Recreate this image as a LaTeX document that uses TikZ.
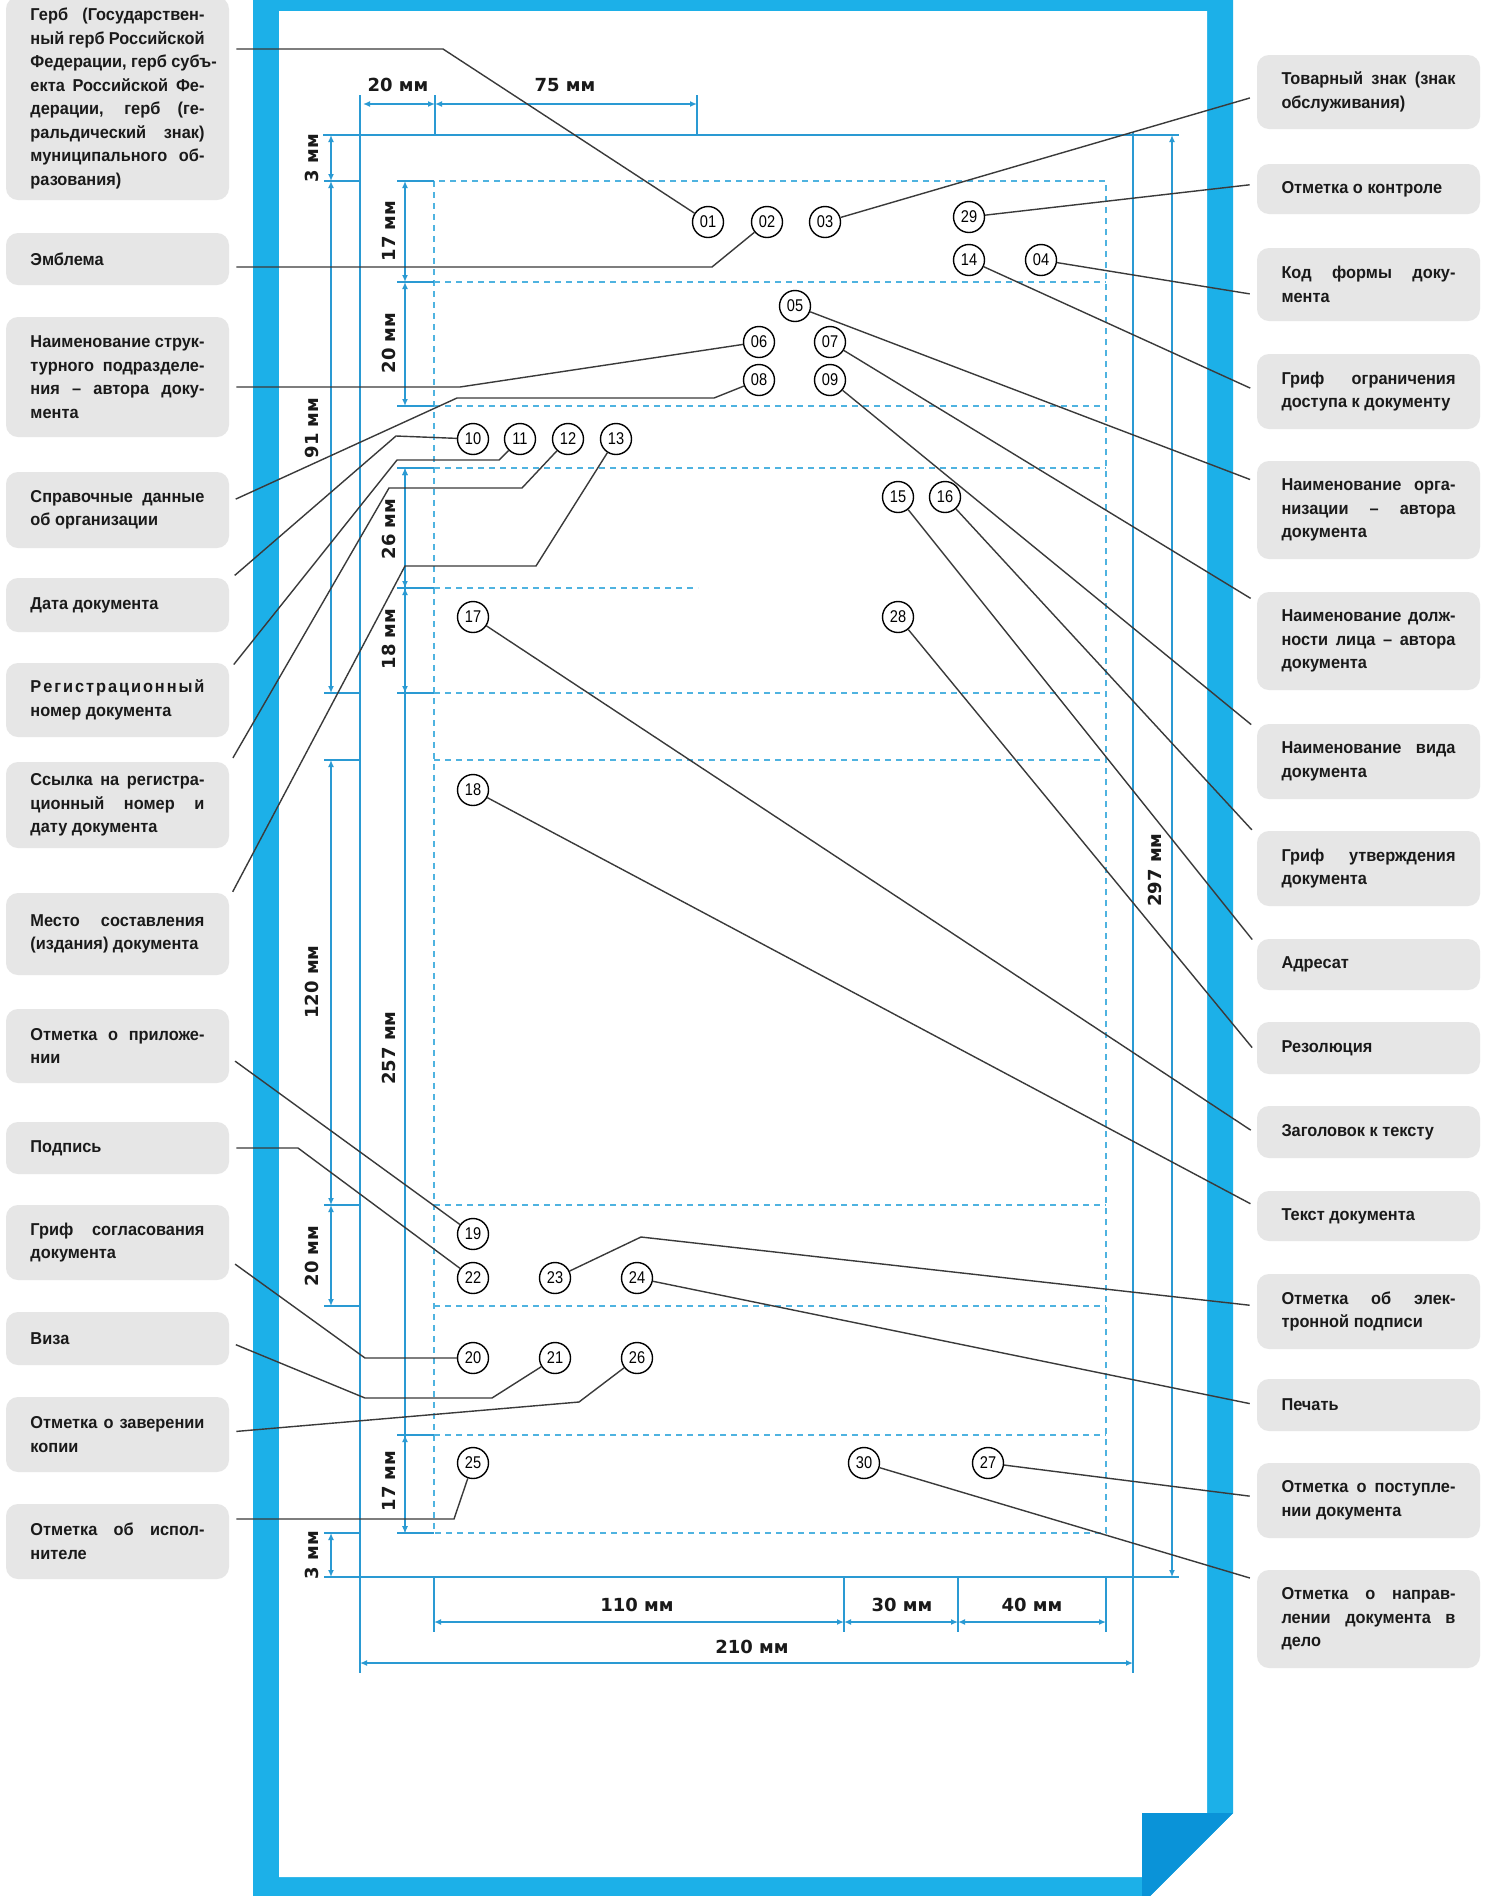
\documentclass[tikz,border=0pt]{standalone}
\usepackage{fontspec}
\newfontfamily\lblfont[FakeStretch=0.95]{Liberation Sans}
\newfontfamily\numfont[FakeStretch=0.86]{Liberation Sans}
\newfontfamily\dimfont{DejaVu Sans}
\usetikzlibrary{arrows.meta}
\definecolor{frameblue}{HTML}{1CB0E8}
\definecolor{folddark}{HTML}{0A93D8}
\definecolor{dimblue}{HTML}{2A9AD3}
\definecolor{dashblue}{HTML}{4FB3E0}
\definecolor{boxgray}{HTML}{E6E6E6}
\definecolor{linegray}{HTML}{3A3A3A}
\definecolor{txt}{HTML}{1A1A1A}
\newlength\tw \setlength\tw{87pt}
\newcommand\jl[1]{\hbox to \tw{\spaceskip=0.25em plus 1fil\relax #1}}
\newcommand\lastl[1]{\hbox to \tw{#1\hfil}}
\newcommand\lbt[1]{\vbox{\baselineskip=11.75pt\lineskiplimit=-20pt #1}}
\tikzset{
 lblbox/.style={fill=boxgray, rounded corners=6pt, minimum width=111.5pt, inner xsep=0pt, inner ysep=0pt, text=txt, font=\lblfont\bfseries\fontsize{8.6}{11.75}\selectfont},
 num/.style={circle, draw=black, line width=0.7pt, fill=white, minimum size=15.5pt, inner sep=0pt, font=\numfont\fontsize{8.5}{10}\selectfont},
 conn/.style={draw=linegray, line width=0.7pt},
 lconn/.style={conn, shorten <=3.5pt},
 rconn/.style={conn, shorten >=3.5pt},
 dimln/.style={draw=dimblue, line width=0.9pt, >={Latex[length=3.5pt,width=3pt]}, <->},
 pageln/.style={draw=dimblue, line width=0.9pt},
 dashln/.style={draw=dashblue, line width=0.8pt, dash pattern=on 3pt off 2.5pt},
 dimlbl/.style={font=\dimfont\bfseries\fontsize{9}{10}\selectfont, text=txt, inner sep=0pt},
}
\begin{document}
\begin{tikzpicture}[x=0.5pt,y=-0.5pt]
\useasboundingbox (0,0) rectangle (1487,1896);
\clip (0,0) rectangle (1487,1896);
\fill[white] (0,0) rectangle (1487,1896);
% frame
\fill[frameblue] (253,-30) -- (1233,-30) -- (1233,1813) -- (1146,1900) -- (253,1900) -- cycle;
\fill[white] (279,11) -- (1207,11) -- (1207,1813) -- (1142,1813) -- (1142,1877) -- (279,1877) -- cycle;
\fill[folddark] (1142,1813) -- (1233,1813) -- (1146,1900) -- (1142,1900) -- cycle;
% dashed text field
\draw[dashln] (434,181) rectangle (1106,1533);
\foreach \yy in {282,406,468,693,760,1205,1306,1435} \draw[dashln] (434,\yy) -- (1106,\yy);
\draw[dashln] (434,588) -- (698,588);
% page lines
\draw[pageln] (323,135) -- (1179,135);
\draw[pageln] (324,1577) -- (1179,1577);
\draw[pageln] (360,95) -- (360,1673);
\draw[pageln] (1133,132) -- (1133,1673);
\draw[pageln] (435,95) -- (435,135);
\draw[pageln] (697,95) -- (697,135);
\foreach \xx in {434,844,958,1106} \draw[pageln] (\xx,1577) -- (\xx,1632);
\foreach \yy in {181,693,760,1205,1306,1533} \draw[pageln] (324,\yy) -- (360,\yy);
\foreach \yy in {181,282,406,468,588,693,1435,1533} \draw[pageln] (397,\yy) -- (434,\yy);
% dimension lines
\draw[dimln] (363,104) -- (435,104);
\draw[dimln] (435,104) -- (697,104);
\draw[dimln] (331,135) -- (331,181);
\draw[dimln] (331,181) -- (331,693);
\draw[dimln] (331,760) -- (331,1205);
\draw[dimln] (331,1205) -- (331,1306);
\draw[dimln] (331,1533) -- (331,1577);
\draw[dimln] (405,181) -- (405,282);
\draw[dimln] (405,282) -- (405,406);
\draw[dimln] (405,468) -- (405,1533);
\draw[dimln] (405,468) -- (405,588);
\draw[dimln] (405,588) -- (405,693);
\draw[dimln] (405,1435) -- (405,1533);
\draw[dimln] (1172,135) -- (1172,1577);
\draw[dimln] (434,1622) -- (844,1622);
\draw[dimln] (844,1622) -- (958,1622);
\draw[dimln] (958,1622) -- (1106,1622);
\draw[dimln] (360,1663) -- (1133,1663);
% dimension labels
\node[dimlbl] (dA) at (398,85) {20 мм};
\node[dimlbl] (dB) at (565,85) {75 мм};
\node[dimlbl, rotate=90] (dC) at (312,158) {3 мм};
\node[dimlbl, rotate=90] (dD) at (312,428) {91 мм};
\node[dimlbl, rotate=90] (dE) at (312,982) {120 мм};
\node[dimlbl, rotate=90] (dF) at (312,1256) {20 мм};
\node[dimlbl, rotate=90] (dG) at (312,1555) {3 мм};
\node[dimlbl, rotate=90] (dH) at (389,231) {17 мм};
\node[dimlbl, rotate=90] (dI) at (389,343) {20 мм};
\node[dimlbl, rotate=90] (dJ) at (389,529) {26 мм};
\node[dimlbl, rotate=90] (dK) at (389,639) {18 мм};
\node[dimlbl, rotate=90] (dL) at (389,1048) {257 мм};
\node[dimlbl, rotate=90] (dM) at (389,1481) {17 мм};
\node[dimlbl, rotate=90] (dN) at (1155,870) {297 мм};
\node[dimlbl] (dO) at (637,1605) {110 мм};
\node[dimlbl] (dP) at (902,1605) {30 мм};
\node[dimlbl] (dQ) at (1032,1605) {40 мм};
\node[dimlbl] (dR) at (752,1647) {210 мм};
% label boxes left
\node[lblbox, minimum height=101.5pt] (L1) at (117.5,98.5) {\lbt{%
\jl{Герб (Государствен-}
\jl{ный герб Российской}
\jl{Федерации, герб субъ-}
\jl{екта Российской Фе-}
\jl{дерации, герб (ге-}
\jl{ральдический знак)}
\jl{муниципального об-}
\lastl{разования)}}};
\node[lblbox, minimum height=26pt] (L2) at (117.5,259) {\lbt{\lastl{Эмблема}}};
\node[lblbox, minimum height=60pt] (L3) at (117.5,377) {\lbt{%
\jl{Наименование струк-}
\jl{турного подразделе-}
\jl{ния – автора доку-}
\lastl{мента}}};
\node[lblbox, minimum height=38pt] (L4) at (117.5,510) {\lbt{%
\jl{Справочные данные}
\lastl{об организации}}};
\node[lblbox, minimum height=27pt] (L5) at (117.5,605) {\lbt{\lastl{Дата документа}}};
\node[lblbox, minimum height=37pt] (L6) at (117.5,700) {\lbt{%
\jl{Р\hfil е\hfil г\hfil и\hfil с\hfil т\hfil р\hfil а\hfil ц\hfil и\hfil о\hfil н\hfil н\hfil ы\hfil й}
\lastl{номер документа}}};
\node[lblbox, minimum height=43pt] (L7) at (117.5,805) {\lbt{%
\jl{Ссылка на регистра-}
\jl{ционный номер и}
\lastl{дату документа}}};
\node[lblbox, minimum height=41pt] (L8) at (117.5,934) {\lbt{%
\jl{Место составления}
\lastl{(издания) документа}}};
\node[lblbox, minimum height=37pt] (L9) at (117.5,1046) {\lbt{%
\jl{Отметка о приложе-}
\lastl{нии}}};
\node[lblbox, minimum height=26pt] (L10) at (117.5,1148) {\lbt{\lastl{Подпись}}};
\node[lblbox, minimum height=37.5pt] (L11) at (117.5,1242.5) {\lbt{%
\jl{Гриф согласования}
\lastl{документа}}};
\node[lblbox, minimum height=26.5pt] (L12) at (117.5,1338.5) {\lbt{\lastl{Виза}}};
\node[lblbox, minimum height=37.5pt] (L13) at (117.5,1434.5) {\lbt{%
\jl{Отметка о заверении}
\lastl{копии}}};
\node[lblbox, minimum height=37.5pt] (L14) at (117.5,1541.5) {\lbt{%
\jl{Отметка об испол-}
\lastl{нителе}}};
% label boxes right
\node[lblbox, minimum height=37pt] (R1) at (1368.5,92) {\lbt{%
\jl{Товарный знак (знак}
\lastl{обслуживания)}}};
\node[lblbox, minimum height=25pt] (R2) at (1368.5,189) {\lbt{\lastl{Отметка о контроле}}};
\node[lblbox, minimum height=36.5pt] (R3) at (1368.5,284.5) {\lbt{%
\jl{Код формы доку-}
\lastl{мента}}};
\node[lblbox, minimum height=37.5pt] (R4) at (1368.5,391.5) {\lbt{%
\jl{Гриф ограничения}
\lastl{доступа к документу}}};
\node[lblbox, minimum height=49pt] (R5) at (1368.5,510) {\lbt{%
\jl{Наименование орга-}
\jl{низации – автора}
\lastl{документа}}};
\node[lblbox, minimum height=49pt] (R6) at (1368.5,641) {\lbt{%
\jl{Наименование долж-}
\jl{ности лица – автора}
\lastl{документа}}};
\node[lblbox, minimum height=37.5pt] (R7) at (1368.5,761.5) {\lbt{%
\jl{Наименование вида}
\lastl{документа}}};
\node[lblbox, minimum height=37.5pt] (R8) at (1368.5,868.5) {\lbt{%
\jl{Гриф утверждения}
\lastl{документа}}};
\node[lblbox, minimum height=25.5pt] (R9) at (1368.5,964.5) {\lbt{\lastl{Адресат}}};
\node[lblbox, minimum height=26pt] (R10) at (1368.5,1048) {\lbt{\lastl{Резолюция}}};
\node[lblbox, minimum height=26pt] (R11) at (1368.5,1132) {\lbt{\lastl{Заголовок к тексту}}};
\node[lblbox, minimum height=25pt] (R12) at (1368.5,1216) {\lbt{\lastl{Текст документа}}};
\node[lblbox, minimum height=37.5pt] (R13) at (1368.5,1311.5) {\lbt{%
\jl{Отметка об элек-}
\lastl{тронной подписи}}};
\node[lblbox, minimum height=26pt] (R14) at (1368.5,1405) {\lbt{\lastl{Печать}}};
\node[lblbox, minimum height=37.5pt] (R15) at (1368.5,1500.5) {\lbt{%
\jl{Отметка о поступле-}
\lastl{нии документа}}};
\node[lblbox, minimum height=49pt] (R16) at (1368.5,1619) {\lbt{%
\jl{Отметка о направ-}
\jl{лении документа в}
\lastl{дело}}};
% numbered circles
\node[num] (c01) at (708,222) {01};
\node[num] (c02) at (767,222) {02};
\node[num] (c03) at (825,222) {03};
\node[num] (c29) at (969,217) {29};
\node[num] (c14) at (969,260) {14};
\node[num] (c04) at (1041,260) {04};
\node[num] (c05) at (795,306) {05};
\node[num] (c06) at (759,342) {06};
\node[num] (c07) at (830,342) {07};
\node[num] (c08) at (759,380) {08};
\node[num] (c09) at (830,380) {09};
\node[num] (c10) at (473,439) {10};
\node[num] (c11) at (520,439) {11};
\node[num] (c12) at (568,439) {12};
\node[num] (c13) at (616,439) {13};
\node[num] (c15) at (898,497) {15};
\node[num] (c16) at (945,497) {16};
\node[num] (c17) at (473,617) {17};
\node[num] (c28) at (898,617) {28};
\node[num] (c18) at (473,790) {18};
\node[num] (c19) at (473,1234) {19};
\node[num] (c22) at (473,1278) {22};
\node[num] (c23) at (555,1278) {23};
\node[num] (c24) at (637,1278) {24};
\node[num] (c20) at (473,1358) {20};
\node[num] (c21) at (555,1358) {21};
\node[num] (c26) at (637,1358) {26};
\node[num] (c25) at (473,1463) {25};
\node[num] (c30) at (864,1463) {30};
\node[num] (c27) at (988,1463) {27};
% connectors left
\draw[lconn] (L1.east |- 0,49) -- (443,49) -- (c01);
\draw[lconn] (L2.east |- 0,267) -- (712,267) -- (c02);
\draw[lconn] (L3.east |- 0,387) -- (460,387) -- (c06);
\draw[lconn] (L4.east |- 0,502) -- (457,398) -- (714,398) -- (c08);
\draw[lconn] (L5.east |- 0,580) -- (396,436) -- (c10);
\draw[lconn] (L6.east |- 0,670) -- (397,460) -- (499,460) -- (c11);
\draw[lconn] (L7.east |- 0,764) -- (389,488) -- (522,488) -- (c12);
\draw[lconn] (L8.east |- 0,898) -- (405,566) -- (536,566) -- (c13);
\draw[lconn] (L9.east |- 0,1057) -- (c19);
\draw[lconn] (L10.east |- 0,1148) -- (298,1148) -- (c22);
\draw[lconn] (L11.east |- 0,1260) -- (365,1358) -- (c20);
\draw[lconn] (L12.east |- 0,1342) -- (365,1398) -- (492,1398) -- (c21);
\draw[lconn] (L13.east |- 0,1432) -- (579,1402) -- (c26);
\draw[lconn] (L14.east |- 0,1519) -- (454,1519) -- (c25);
% connectors right
\draw[rconn] (c03) -- (R1.west |- 0,96);
\draw[rconn] (c29) -- (R2.west |- 0,184);
\draw[rconn] (c04) -- (R3.west |- 0,295);
\draw[rconn] (c14) -- (R4.west |- 0,391);
\draw[rconn] (c05) -- (R5.west |- 0,482);
\draw[rconn] (c07) -- (R6.west |- 0,602);
\draw[rconn] (c09) -- (R7.west |- 0,729);
\draw[rconn] (c16) -- (R8.west |- 0,835);
\draw[rconn] (c15) -- (R9.west |- 0,945);
\draw[rconn] (c28) -- (R10.west |- 0,1053);
\draw[rconn] (c17) -- (R11.west |- 0,1134);
\draw[rconn] (c18) -- (R12.west |- 0,1207);
\draw[rconn] (c23) -- (641,1237) -- (R13.west |- 0,1306);
\draw[rconn] (c24) -- (R14.west |- 0,1405);
\draw[rconn] (c27) -- (R15.west |- 0,1497);
\draw[rconn] (c30) -- (R16.west |- 0,1580);
\end{tikzpicture}
\end{document}
